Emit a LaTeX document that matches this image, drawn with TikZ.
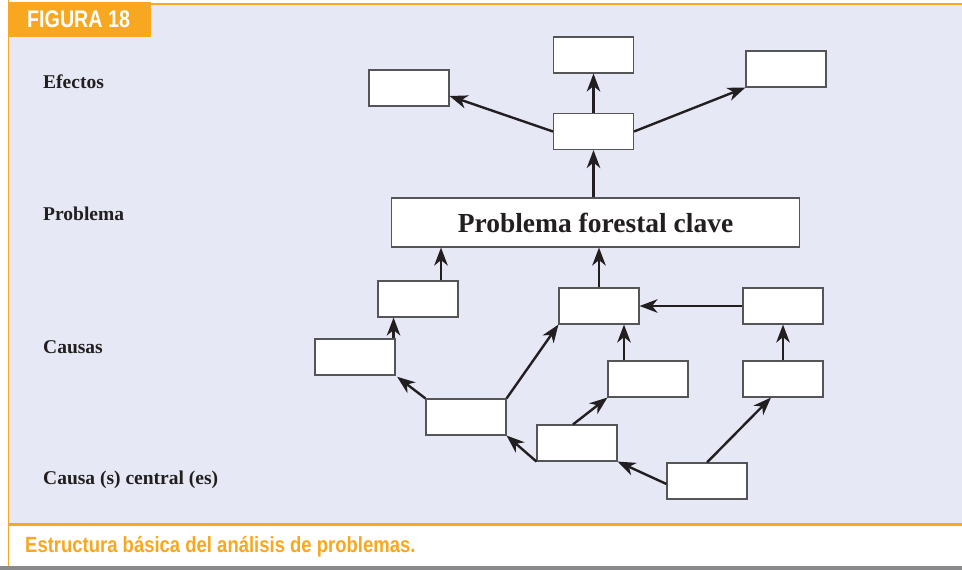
\documentclass[tikz,border=0pt]{standalone}
\usepackage{fontspec}
\usepackage{graphicx}
\setmainfont{Liberation Serif}
\newfontfamily\capsans{Liberation Sans}
\usetikzlibrary{arrows.meta}
\definecolor{figorange}{RGB}{248,168,32}
\definecolor{figpanel}{RGB}{230,232,245}
\definecolor{figgrey}{RGB}{138,138,140}
\definecolor{figink}{RGB}{35,31,32}
\definecolor{figedge}{RGB}{85,85,88}
\begin{document}
\begin{tikzpicture}[x=1pt,y=-1pt,
  blank/.style={draw=figedge, line width=1.1pt, fill=white,
    minimum width=80pt, minimum height=36pt, inner sep=0pt},
  link/.style={draw=figink, line width=2.4pt,
    -{Stealth[length=18pt,width=13.5pt,inset=5.5pt]}},
  levellabel/.style={anchor=base west, inner sep=0pt, text=figink,
    font=\bfseries\fontsize{19.5}{22}\selectfont}]
\useasboundingbox (0,0) rectangle (962,570);

% frame: panel, caption strip, rules
\fill[figpanel] (9,4) rectangle (962,523);
\fill[white] (9,525) rectangle (962,566);
\fill[figgrey] (0,566) rectangle (962,570);
\fill[figorange] (8,523) rectangle (962,525.5);
\fill[figorange] (151,2.5) rectangle (962,4.5);
\fill[figorange] (7.5,0) rectangle (9.2,566);
\fill[figorange] (7.5,2) rectangle (151,37);
\node[anchor=base west, inner sep=0pt, text=white] (head) at (27,27.5)
  {\scalebox{0.82}[1]{\capsans\bfseries\fontsize{24}{24}\selectfont FIGURA 18}};
\node[anchor=base west, inner sep=0pt, text=figorange] (caption) at (25,552)
  {\scalebox{0.84}[1]{\capsans\bfseries\fontsize{22}{22}\selectfont Estructura básica del análisis de problemas.}};

% level labels
\node[levellabel] (lef) at (43,88) {Efectos};
\node[levellabel] (lpr) at (43,220) {Problema};
\node[levellabel] (lca) at (43,353) {Causas};
\node[levellabel] (lcc) at (43,484) {Causa (s) central (es)};

% effects
\node[blank] (E1) at (409,88) {};
\node[blank] (E2) at (593.5,55) {};
\node[blank] (E3) at (786,69) {};
\node[blank] (EM) at (593.5,131.5) {};

% core problem
\node[blank, minimum width=408pt, minimum height=49pt, text=figink,
  font=\bfseries\fontsize{27.5}{30}\selectfont] (P) at (595.5,222.5)
  {Problema forestal clave};

% causes
\node[blank] (C1) at (418,299) {};
\node[blank] (C2) at (599,306) {};
\node[blank] (C3) at (783,306) {};
\node[blank] (C4) at (648,379) {};
\node[blank] (C5) at (783,379) {};
\node[blank] (C6) at (355,357) {};

% central causes
\node[blank] (CC1) at (466,417) {};
\node[blank] (CC2) at (577,443) {};
\node[blank] (CC3) at (707,481) {};

% effect links
\draw[link] (EM.north) -- (E2.south);
\draw[link] (EM.west) -- ([yshift=-8pt]E1.east);
\draw[link] (EM.east) -- (E3.south west);
\draw[link] (EM.south |- P.north) -- (EM.south);

% cause links
\draw[link] ([xshift=23pt]C1.north) -- ([xshift=23pt]C1.north |- P.south);
\draw[link] (C2.north) -- (C2.north |- P.south);
\draw[link] (C3.west) -- (C2.east);
\draw[link] ([xshift=-24pt]C4.north) -- ([xshift=-24pt]C4.north |- C2.south);
\draw[link] (C5.north) -- (C3.south);
\draw[link] ([xshift=-2pt]C6.north east) -- ([xshift=-2pt]C6.north east |- C1.south);

% central cause links
\draw[link, shorten >=2pt] (CC1.north west) -- (C6.south east);
\draw[link] (CC1.north east) -- (C2.south west);
\draw[link] (CC2.south west) -- (CC1.south east);
\draw[link] ([xshift=-4pt]CC2.north) -- (C4.south west);
\draw[link] ([yshift=-3pt]CC3.west) -- (CC2.south east);
\draw[link] (CC3.north) -- ([xshift=-12pt]C5.south);
\end{tikzpicture}
\end{document}
